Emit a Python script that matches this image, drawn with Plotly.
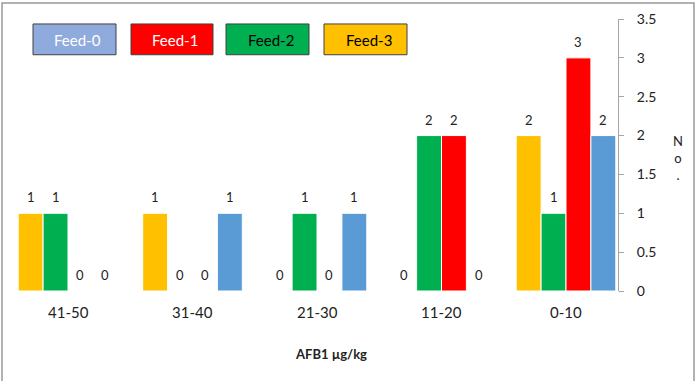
import plotly.graph_objects as go

categories = ["41-50", "31-40", "21-30", "11-20", "0-10"]
series_names = ["Feed-3", "Feed-2", "Feed-1", "Feed-0"]
feed3 = [1, 1, 0, 0, 2]
feed2 = [1, 0, 1, 2, 1]
feed1 = [0, 0, 0, 2, 3]
feed0 = [0, 1, 1, 0, 2]
y_ticks = [0, 0.5, 1, 1.5, 2, 2.5, 3, 3.5]

series_values = [feed3, feed2, feed1, feed0]
bar_colors = ["#FFC000", "#00B050", "#FF0000", "#5B9BD5"]

W, H = 696, 381
L, R, T, B = 10, 78, 17, 90
PW, PH = W - L - R, H - T - B
FONT = "Lato, Liberation Sans, sans-serif"

def px(xp):
    return (xp - L) / PW

def py(yp):
    return (H - B - yp) / PH

fig = go.Figure()
xs = list(range(len(categories)))
for name, vals, col in zip(series_names, series_values, bar_colors):
    fig.add_trace(go.Bar(x=xs, y=vals, name=name, marker=dict(color=col, line=dict(color="white", width=1)),
                         showlegend=False))

annotations = []
n = len(series_names)
for i, vals in enumerate(series_values):
    for j, v in enumerate(vals):
        annotations.append(dict(x=j + (i - (n - 1) / 2) * 0.2, y=v, xref="x", yref="y", text=str(v),
                                showarrow=False, yshift=16, yanchor="middle", xanchor="center",
                                font=dict(size=13, color="#222222", family=FONT)))

# category labels
for j, c in enumerate(categories):
    annotations.append(dict(x=j, y=py(312), xref="x", yref="paper", text=c, showarrow=False,
                            yanchor="middle", xanchor="center",
                            font=dict(size=15, color="#222222", family=FONT)))

# axis title
annotations.append(dict(x=px(331), y=py(354), xref="paper", yref="paper", text="<b>AFB1 µg/kg</b>",
                        showarrow=False, yanchor="middle", xanchor="center",
                        font=dict(size=13, color="#222222", family=FONT)))
annotations.append(dict(x=px(678), y=py(157), xref="paper", yref="paper", text="N<br>o<br>.",
                        showarrow=False, yanchor="middle", xanchor="center",
                        font=dict(size=13, color="#222222", family=FONT)))

# legend boxes
legend_items = [("Feed-0", "#8FAADC", "white", 33, 116),
                ("Feed-1", "#FF0000", "white", 131, 213),
                ("Feed-2", "#00B050", "black", 226, 309),
                ("Feed-3", "#FFC000", "black", 324, 407)]
shapes = []
for name, fill, tc, x0, x1 in legend_items:
    shapes.append(dict(type="rect", xref="paper", yref="paper", x0=px(x0), x1=px(x1), y0=py(53), y1=py(22),
                       fillcolor=fill, line=dict(color="#404040", width=1)))
    annotations.append(dict(x=px((x0 + x1) / 2 + 3), y=py(38), xref="paper", yref="paper", text=name,
                            showarrow=False, yanchor="middle", xanchor="center",
                            font=dict(size=15, color=tc, family=FONT)))

# outer border
shapes.append(dict(type="rect", xref="paper", yref="paper", x0=px(2), x1=px(694), y0=py(390), y1=py(1),
                   line=dict(color="#999999", width=1.5), fillcolor="rgba(0,0,0,0)", layer="below"))

fig.update_layout(
    width=W, height=H,
    margin=dict(l=L, r=R, t=T, b=B),
    plot_bgcolor="white", paper_bgcolor="white",
    barmode="group", bargap=0.2, bargroupgap=0,
    xaxis=dict(range=[(L - 68) / 124.5, (W - R - 68) / 124.5], showticklabels=False, showgrid=False,
               zeroline=False, showline=False, ticks=""),
    yaxis=dict(side="right", range=[0, 3.5], tickvals=y_ticks, ticktext=[f"{t:g}" for t in y_ticks],
               showgrid=False, zeroline=False, showline=True, linecolor="#A6A6A6", linewidth=1,
               ticks="outside", ticklen=5, tickcolor="#A6A6A6", ticklabelstandoff=10,
               tickfont=dict(size=14, color="#222222", family=FONT)),
    annotations=annotations, shapes=shapes,
)

fig.write_html("out.html", config={"displayModeBar": False},
               post_script="document.body.style.margin='0';")
